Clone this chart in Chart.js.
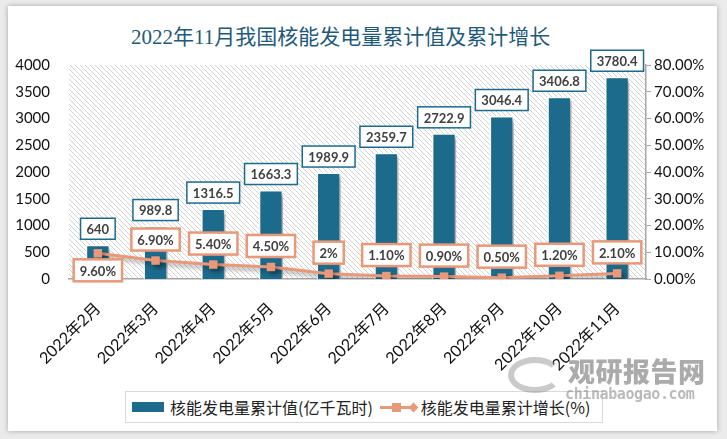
<!DOCTYPE html>
<html>
<head>
<meta charset="utf-8">
<script src="https://cdn.jsdelivr.net/npm/chart.js@4.4.0/dist/chart.umd.min.js"></script>
<style>
    html, body { margin: 0; padding: 0; }
    body { width: 727px; height: 439px; background: #ebebeb; position: relative; overflow: hidden; font-family: Lato, "Noto Sans CJK SC", sans-serif; }
    #card { position: absolute; left: 8px; top: 6px; width: 709px; height: 425px; background: #fff; box-shadow: 0 0 5px rgba(0,0,0,.3); }
    #title { position: absolute; left: 131px; top: 20px; font: 21px "Liberation Serif", "Noto Sans CJK SC", serif; color: #1f5a7a; white-space: nowrap; }
    #chart { position: absolute; left: 0; top: 0; }
    #legend { position: absolute; left: 125px; top: 391px; width: 476px; height: 30px; border: 1px solid #d9d9d9; background: #fff; display: flex; align-items: center; font: 16px "Noto Sans CJK SC", sans-serif; color: #222; white-space: nowrap; }
    .sw-bar { width: 32px; height: 10px; background: #1c6a8c; margin: 0 6px 0 6px; }
    .sw-line { position: relative; width: 38px; height: 13px; margin: 0 3px 0 7px; }
    .sw-line .ln { position: absolute; left: 0; top: 5px; width: 34px; height: 3px; background: #e8997a; }
    .sw-line .sq { position: absolute; left: 12px; top: 2px; width: 9px; height: 9px; background: #e8997a; }
    .sw-line .dm { position: absolute; left: 30px; top: 3px; width: 7px; height: 7px; background: #e8997a; transform: rotate(45deg); }
    #watermark { position: absolute; left: 508px; top: 355px; color: rgba(120,120,120,.62); }
    #watermark .logo { position: absolute; left: 0; top: 2px; width: 42px; height: 24px; border-radius: 50%; border: 6px solid rgba(150,150,150,.5); border-right-color: transparent; }
    #watermark .cn { position: absolute; left: 60px; top: -4px; font: 900 27px "Noto Sans CJK SC", sans-serif; white-space: nowrap; letter-spacing: 0.5px; }
    #watermark .en { position: absolute; left: 57px; top: 30px; font: bold 15px "DejaVu Sans Mono", monospace; white-space: nowrap; letter-spacing: -0.4px; color: rgba(140,140,140,.6); }
</style>
</head>
<body>
<div id="card"></div>
<div id="title">2022年11月我国核能发电量累计值及累计增长</div>
<canvas id="chart" width="727" height="439"></canvas>
<div id="legend">
    <div class="sw-bar"></div><span>核能发电量累计值(亿千瓦时)</span>
    <div class="sw-line"><div class="ln"></div><div class="sq"></div><div class="dm"></div></div><span>核能发电量累计增长(%)</span>
</div>
<div id="watermark"><div class="logo"></div><div class="cn">观研报告网</div><div class="en">chinabaogao.com</div></div>
<script>
// datos
const categorias = ['2022年2月', '2022年3月', '2022年4月', '2022年5月', '2022年6月', '2022年7月', '2022年8月', '2022年9月', '2022年10月', '2022年11月'];
const valoresGeneracion = [640, 989.8, 1316.5, 1663.3, 1989.9, 2359.7, 2722.9, 3046.4, 3406.8, 3780.4];
const valoresCrecimiento = [9.6, 6.9, 5.4, 4.5, 2, 1.1, 0.9, 0.5, 1.2, 2.1];
const ticksIzquierda = [0, 4000, 500];   // min, max, paso
const ticksDerecha = [0, 80, 10];

const COLORES = {
    BARRA: '#1c6a8c',
    LINEA: '#e8997a',
    TEXTO: '#111111',
    ETIQUETA: '#404040',
    EJE: '#a6a6a6'
};

// fondo rayado del area del grafico
const tramado = document.createElement('canvas');
tramado.width = 5; tramado.height = 5;
const tc = tramado.getContext('2d');
tc.strokeStyle = '#d2d2d2';
tc.lineWidth = 1;
tc.beginPath();
tc.moveTo(0, 0); tc.lineTo(5, 5);
tc.moveTo(-1, 4); tc.lineTo(1, 6);
tc.moveTo(4, -1); tc.lineTo(6, 1);
tc.stroke();

const fondoRayado = {
    id: 'fondoRayado',
    beforeDraw(chart) {
        const { ctx, chartArea: a } = chart;
        ctx.save();
        ctx.fillStyle = ctx.createPattern(tramado, 'repeat');
        ctx.fillRect(a.left, a.top, a.right - a.left, a.bottom - a.top);
        ctx.restore();
    }
};

const sombra = {
    id: 'sombra',
    beforeDatasetDraw(chart) {
        const ctx = chart.ctx;
        ctx.save();
        ctx.shadowColor = 'rgba(0,0,0,0.35)';
        ctx.shadowOffsetX = 3;
        ctx.shadowOffsetY = 3;
        ctx.shadowBlur = 4;
    },
    afterDatasetDraw(chart) {
        chart.ctx.restore();
    }
};

function cajaEtiqueta(ctx, texto, cx, cy, h, borde, grosor) {
    ctx.font = 'bold 13px Lato, sans-serif';
    const w = ctx.measureText(texto).width + 12;
    ctx.fillStyle = '#fff';
    ctx.fillRect(cx - w / 2, cy - h / 2, w, h);
    ctx.lineWidth = grosor;
    ctx.strokeStyle = borde;
    ctx.strokeRect(cx - w / 2, cy - h / 2, w, h);
    ctx.fillStyle = COLORES.ETIQUETA;
    ctx.textAlign = 'center';
    ctx.textBaseline = 'middle';
    ctx.fillText(texto, cx, cy + 1);
}

function textoPorcentaje(v) {
    return Number.isInteger(v) ? v + '%' : v.toFixed(2) + '%';
}

const etiquetas = {
    id: 'etiquetas',
    afterDatasetsDraw(chart) {
        const ctx = chart.ctx;
        ctx.save();
        chart.getDatasetMeta(1).data.forEach((el, i) => {
            cajaEtiqueta(ctx, String(valoresGeneracion[i]), el.x, el.y - 16, 21, COLORES.BARRA, 1.5);
        });
        chart.getDatasetMeta(0).data.forEach((el, i) => {
            const dy = i === 0 ? 17 : -21;
            cajaEtiqueta(ctx, textoPorcentaje(valoresCrecimiento[i]), el.x, el.y + dy, 22, COLORES.LINEA, 2.5);
        });
        ctx.restore();
    }
};

const fuenteEje = { family: 'Lato, sans-serif', size: 15 };

new Chart(document.getElementById('chart').getContext('2d'), {
    data: {
        labels: categorias,
        datasets: [
            {
                type: 'line',
                label: '核能发电量累计增长(%)',
                data: valoresCrecimiento,
                yAxisID: 'y1',
                borderColor: COLORES.LINEA,
                backgroundColor: COLORES.LINEA,
                borderWidth: 3,
                pointStyle: 'rect',
                pointRadius: 6,
                pointBorderWidth: 0,
                pointBackgroundColor: COLORES.LINEA,
                tension: 0,
                order: 0
            },
            {
                type: 'bar',
                label: '核能发电量累计值(亿千瓦时)',
                data: valoresGeneracion,
                yAxisID: 'y',
                backgroundColor: COLORES.BARRA,
                borderColor: '#ffffff',
                borderWidth: 1.5,
                barPercentage: 0.42,
                categoryPercentage: 1,
                order: 1
            }
        ]
    },
    options: {
        responsive: false,
        animation: false,
        layout: { padding: { top: 65, bottom: 60, left: 0, right: 0 } },
        plugins: {
            legend: { display: false },
            tooltip: { enabled: false }
        },
        scales: {
            x: {
                afterFit(s) { s.height = 100; },
                grid: { display: false },
                border: { display: true, color: COLORES.EJE, width: 1.5 },
                ticks: {
                    color: COLORES.TEXTO,
                    font: { family: 'Lato, "Noto Sans CJK SC", sans-serif', size: 16 },
                    maxRotation: 45, minRotation: 45, padding: 12
                }
            },
            y: {
                position: 'left',
                min: ticksIzquierda[0],
                max: ticksIzquierda[1],
                afterFit(s) { s.width = 69; },
                grid: { display: false },
                border: { display: false },
                ticks: { stepSize: ticksIzquierda[2], color: COLORES.TEXTO, font: fuenteEje, padding: 11, callback: v => String(v) }
            },
            y1: {
                position: 'right',
                min: ticksDerecha[0],
                max: ticksDerecha[1],
                afterFit(s) { s.width = 81; },
                grid: { drawOnChartArea: false, drawTicks: true, tickLength: 5, color: COLORES.EJE },
                border: { display: true, color: COLORES.EJE, width: 1.5 },
                ticks: {
                    stepSize: ticksDerecha[2],
                    color: COLORES.TEXTO,
                    font: fuenteEje,
                    padding: 3,
                    callback: v => v.toFixed(2) + '%'
                }
            }
        }
    },
    plugins: [fondoRayado, sombra, etiquetas]
});
</script>
</body>
</html>
